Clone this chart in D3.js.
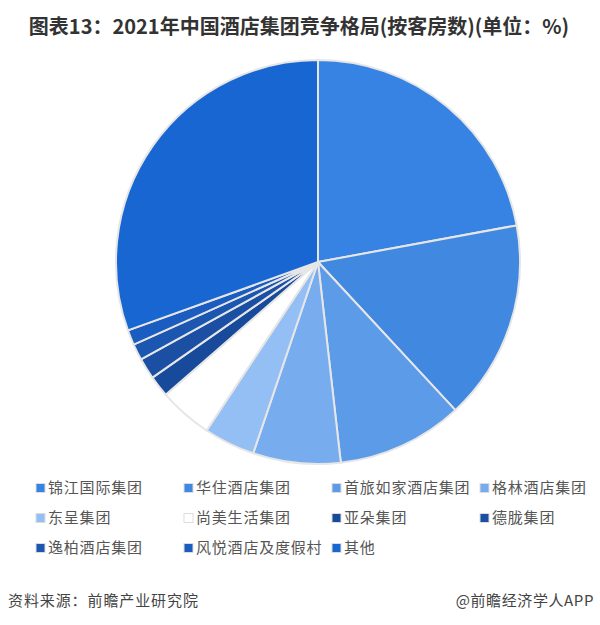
<!DOCTYPE html>
<html>
<head>
<meta charset="utf-8">
<script src="https://cdn.jsdelivr.net/npm/d3@7"></script>
<style>
  html, body { margin: 0; padding: 0; background: #ffffff; }
  svg { display: block; }
</style>
</head>
<body>
<svg id="chart" width="600" height="625"></svg>
<script>
const titleText = "图表13：2021年中国酒店集团竞争格局(按客房数)(单位：%)";
const sourceText = "资料来源：前瞻产业研究院";
const creditText = "@前瞻经济学人APP";

const categories = ["锦江国际集团", "华住酒店集团", "首旅如家酒店集团", "格林酒店集团",
  "东呈集团", "尚美生活集团", "亚朵集团", "德胧集团",
  "逸柏酒店集团", "风悦酒店及度假村", "其他"];
const shares = [22.1, 16.0, 10.1, 7.0, 4.1, 4.3, 1.7, 1.7, 1.3, 1.2, 30.5];
const colors = ["#3683e3", "#4088e0", "#5c9be8", "#77acee",
  "#93bff5", "#ffffff", "#184a9c", "#1a4fa3",
  "#1b56b1", "#1a5cc0", "#1866d2"];

const svg = d3.select("#chart");
const font = "'Noto Sans CJK SC', 'Noto Sans', sans-serif";

// Title
svg.append("text")
  .attr("x", 299).attr("y", 34)
  .attr("text-anchor", "middle")
  .attr("font-family", font)
  .attr("font-weight", "bold")
  .attr("font-size", 20)
  .attr("fill", "#333333")
  .text(titleText);

// Pie
const cx = 318, cy = 262, R = 202;
const data = categories.map((c, i) => ({ name: c, value: shares[i], color: colors[i] }));
const pie = d3.pie().value(d => d.value).sort(null);
const arc = d3.arc().innerRadius(0).outerRadius(R);
const color = d3.scaleOrdinal().domain(categories).range(colors);

const g = svg.append("g").attr("transform", `translate(${cx},${cy})`);
g.selectAll("path")
  .data(pie(data))
  .join("path")
  .attr("d", arc)
  .attr("fill", d => color(d.data.name))
  .attr("stroke", "#e6e6e6")
  .attr("stroke-width", 2)
  .attr("stroke-linejoin", "round");

// Legend
const colX = [36, 184, 332, 480];
const rowY = [488, 518, 548];
const leg = svg.append("g");
data.forEach((d, i) => {
  const col = i % 4, row = Math.floor(i / 4);
  const x = colX[col], y = rowY[row];
  leg.append("rect")
    .attr("x", x).attr("y", y - 4.5)
    .attr("width", 9).attr("height", 9)
    .attr("fill", color(d.name))
    .attr("stroke", "#dddddd")
    .attr("stroke-width", 1);
  leg.append("text")
    .attr("x", x + 12).attr("y", y)
    .attr("dy", "0.36em")
    .attr("font-family", font)
    .attr("font-size", 15)
    .attr("letter-spacing", 0.8)
    .attr("fill", "#555555")
    .text(d.name);
});

// Footer
svg.append("text")
  .attr("x", 8).attr("y", 606)
  .attr("font-family", font)
  .attr("font-size", 15)
  .attr("letter-spacing", 0.9)
  .attr("fill", "#444444")
  .text(sourceText);
svg.append("text")
  .attr("x", 594).attr("y", 606)
  .attr("text-anchor", "end")
  .attr("font-family", font)
  .attr("font-size", 15)
  .attr("letter-spacing", 0.6)
  .attr("fill", "#444444")
  .text(creditText);
</script>
</body>
</html>
